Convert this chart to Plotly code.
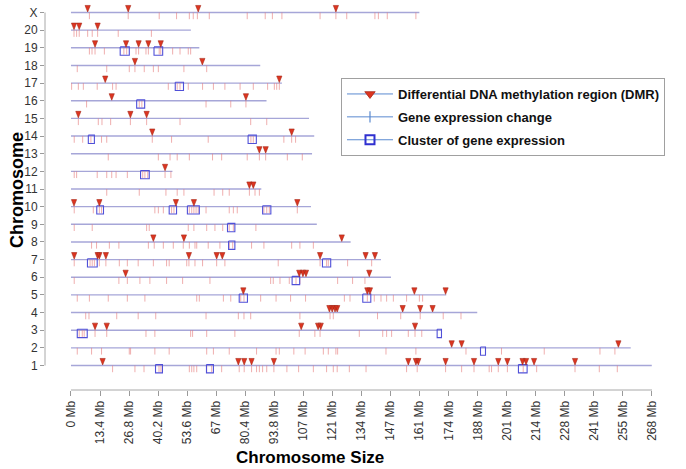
import plotly.graph_objects as go

# ---------------- data (Mb) ----------------
chromosomes = ["1", "2", "3", "4", "5", "6", "7", "8", "9", "10", "11", "12",
               "13", "14", "15", "16", "17", "18", "19", "20", "X"]
chrom_length_mb = [267.9, 258.2, 171.1, 187.4, 173.1, 147.6, 143.0, 129.0, 113.4, 110.7,
                   87.8, 46.8, 111.2, 112.2, 109.8, 90.2, 97.3, 87.3, 59.2, 55.3, 160.7]

dmr_mb = {
    "X": [7.7, 26.4, 58.7, 122.2],
    "20": [1.4, 3.8, 12.3],
    "19": [11.1, 25.4, 31.2, 35.7, 41.4],
    "18": [29.5, 60.6],
    "17": [15.8, 96.1],
    "16": [18.8, 80.7],
    "15": [3.4, 27.4, 34.9],
    "14": [37.5, 101.8],
    "13": [86.9, 89.8],
    "12": [43.4],
    "11": [82.3, 84.1],
    "10": [1.4, 13.1, 48.4, 56.7, 104.4],
    "9": [],
    "8": [38.0, 52.1, 124.9],
    "7": [1.5, 12.3, 13.1, 16.1, 54.4, 67.2, 69.8, 114.9, 135.9, 140.2],
    "6": [25.2, 105.3, 107.0, 108.4, 137.6],
    "5": [79.5, 136.7, 137.9, 158.4, 172.8],
    "4": [119.2, 120.5, 121.8, 122.8, 153.0, 161.1, 166.8],
    "3": [11.1, 16.5, 106.2, 114.0, 115.2, 158.7],
    "2": [175.6, 180.2, 252.5],
    "1": [14.6, 77.2, 79.9, 83.3, 93.6, 155.6, 159.1, 160.2, 172.8, 185.9, 197.1,
          201.3, 208.3, 209.9, 213.6, 232.5],
}

expr_mb = {
    "X": [8.5, 26.4, 40.7, 48.7, 54.6, 56.4, 58.3, 63.8, 81.3, 89.6, 92.9, 97.3, 114.9,
          122.2, 127.2, 140.2, 141.8, 145.9, 159.1],
    "20": [1.4, 2.6, 3.8, 7.7, 9.8, 12.3, 21.8, 37.1],
    "19": [8.5, 9.7, 11.1, 15.4, 24.4, 25.7, 30.0, 31.2, 34.6, 35.7, 40.7, 41.4, 46.9,
           50.3, 54.1, 55.2],
    "18": [2.9, 16.5, 26.9, 29.5, 33.8, 38.0, 40.3, 52.1, 62.6],
    "17": [0.3, 3.4, 5.7, 12.1, 19.2, 20.8, 44.9, 49.0, 50.3, 54.1, 60.7, 65.7, 71.0, 78.0,
           84.1, 90.7, 93.8, 94.9, 96.1],
    "16": [7.2, 31.5, 32.7, 62.3, 73.7, 80.7],
    "15": [3.4, 12.6, 14.3, 18.3, 27.4, 34.9, 50.3, 82.9, 90.3],
    "14": [1.5, 5.4, 9.2, 14.1, 16.5, 37.5, 46.4, 63.3, 83.0, 84.1, 98.2, 101.8, 103.6],
    "13": [17.2, 40.3, 45.7, 49.0, 54.6, 65.3, 69.5, 81.3, 86.9, 89.8, 99.8, 106.7],
    "12": [1.5, 2.6, 12.1, 16.5, 18.8, 20.8, 26.0, 33.1, 34.1, 35.4, 43.4, 46.1],
    "11": [16.5, 31.5, 43.8, 49.0, 52.1, 66.0, 70.0, 73.0, 82.3, 84.9, 86.9],
    "10": [1.5, 10.3, 13.1, 14.1, 38.7, 40.3, 42.6, 46.4, 47.5, 54.6, 55.7, 56.7, 57.7,
           58.7, 62.3, 73.0, 74.9, 76.7, 89.0, 90.3, 91.5, 104.4],
    "9": [1.5, 9.8, 34.9, 36.1, 54.1, 56.7, 62.6, 66.4, 70.0, 73.0, 74.9, 85.3],
    "8": [9.5, 11.8, 17.7, 22.1, 35.7, 38.4, 42.6, 47.2, 51.8, 54.6, 57.2, 58.0, 63.3,
          68.7, 73.0, 74.6, 83.3, 89.0, 101.8, 105.6, 111.8],
    "7": [1.5, 8.8, 9.8, 10.8, 13.1, 16.1, 22.3, 26.0, 31.0, 38.0, 44.1, 45.3, 53.4, 54.4,
          57.2, 60.7, 67.2, 71.0, 95.6, 114.9, 117.9, 118.7, 127.6, 138.7],
    "6": [1.5, 22.1, 26.0, 31.8, 36.4, 44.1, 51.5, 64.1, 92.1, 93.3, 96.4, 100.7, 103.8,
          105.6, 123.0, 129.9, 135.6],
    "5": [2.9, 8.5, 17.2, 26.0, 34.1, 58.0, 59.2, 70.3, 73.7, 78.3, 79.8, 87.5, 94.6,
          101.3, 108.2, 126.1, 128.7, 136.7, 139.9, 143.0, 145.6, 148.7, 154.8, 160.7, 162.2],
    "4": [6.8, 8.3, 21.1, 31.0, 39.1, 62.3, 77.2, 79.8, 82.9, 105.6, 119.5, 121.0, 141.4,
          152.1, 161.1, 171.7, 179.9],
    "3": [3.8, 5.2, 6.1, 11.1, 16.5, 34.6, 38.7, 55.2, 56.1, 62.6, 75.6, 105.3, 112.5,
          114.9, 133.0, 143.8, 145.6, 147.9, 155.6, 158.7, 161.8],
    "2": [2.9, 9.5, 14.1, 26.9, 27.5, 38.7, 45.3, 62.6, 65.7, 73.0, 85.6, 94.6, 96.1,
          102.8, 108.0, 116.4, 118.7, 122.2, 123.0, 145.3, 159.1, 182.2, 198.6, 218.3,
          244.0, 250.9],
    "1": [19.2, 29.5, 33.7, 40.6, 41.5, 54.6, 55.7, 56.7, 58.0, 62.6, 64.9, 69.5, 77.6,
          79.9, 83.3, 85.6, 86.9, 88.4, 90.3, 93.6, 99.6, 105.0, 111.8, 117.9, 121.0, 122.8,
          128.4, 136.1, 154.8, 159.7, 172.8, 180.2, 185.9, 192.9, 194.0, 197.1, 201.3,
          208.6, 214.8, 232.5, 243.7, 252.0],
}

cluster_start_mb = {
    "19": [22.7, 38.3], "17": [48.1], "16": [30.3], "14": [8.0, 81.7], "12": [32.1],
    "10": [11.9, 45.3, 53.7, 88.4], "9": [72.2], "8": [72.7], "7": [7.6, 116.0],
    "6": [102.0], "5": [77.6, 134.6], "3": [2.9, 168.9], "2": [188.9],
    "1": [39.0, 62.5, 206.4],
}
cluster_end_mb = {
    "19": [26.9, 42.3], "17": [51.9], "16": [34.0], "14": [10.8, 85.5], "12": [36.1],
    "10": [15.0, 48.7, 59.2, 92.2], "9": [75.6], "8": [75.6], "7": [12.1, 119.8],
    "6": [105.5], "5": [81.4, 138.3], "3": [7.5, 170.9], "2": [191.2],
    "1": [42.2, 65.7, 210.4],
}

x_tick_values = [0, 13.4, 26.8, 40.2, 53.6, 67.0, 80.4, 93.8, 107.2, 120.6, 134.0,
                 147.4, 160.8, 174.2, 187.6, 201.0, 214.4, 227.8, 241.2, 254.6, 268.0]
x_tick_labels = ["0 Mb", "13.4 Mb", "26.8 Mb", "40.2 Mb", "53.6 Mb", "67 Mb", "80.4 Mb",
                 "93.8 Mb", "107 Mb", "121 Mb", "134 Mb", "147 Mb", "161 Mb", "174 Mb",
                 "188 Mb", "201 Mb", "214 Mb", "228 Mb", "241 Mb", "255 Mb", "268 Mb"]

# ---------------- styling ----------------
FONT = "Liberation Sans, Arial, Helvetica, sans-serif"
CHROM_COLOR = "#a6a6d8"
EXPR_COLOR = "rgba(228,120,120,0.6)"
CLUSTER_COLOR = "#5050d8"
DMR_FILL = "#dc3520"
DMR_EDGE = "#a8281a"
LEGEND_LINE = "#5a8ad0"

TICK_DEPTH = 0.38       # expression tick length (row units)
BOX_TOP = 0.05
BOX_BOTTOM = 0.42
TRI_HALF_W = 1.2        # Mb
TRI_H = 0.37            # row units

row_of = {c: i + 1 for i, c in enumerate(chromosomes)}

# chromosome lines
lx, ly = [], []
for c, L in zip(chromosomes, chrom_length_mb):
    r = row_of[c]
    lx += [0, L, None]
    ly += [r, r, None]

# expression ticks
ex, ey = [], []
for c, vals in expr_mb.items():
    r = row_of[c]
    for v in vals:
        ex += [v, v, None]
        ey += [r, r - TICK_DEPTH, None]

# clusters
cx, cy = [], []
for c in cluster_start_mb:
    r = row_of[c]
    for a, b in zip(cluster_start_mb[c], cluster_end_mb[c]):
        cx += [a, b, b, a, a, None]
        cy += [r + BOX_TOP, r + BOX_TOP, r - BOX_BOTTOM, r - BOX_BOTTOM, r + BOX_TOP, None]

# DMR triangles
tx, ty = [], []
for c, vals in dmr_mb.items():
    r = row_of[c]
    for v in vals:
        tx += [v - TRI_HALF_W, v + TRI_HALF_W, v, v - TRI_HALF_W, None]
        ty += [r + TRI_H + 0.03, r + TRI_H + 0.03, r + 0.03, r + TRI_H + 0.03, None]

fig = go.Figure()
fig.add_trace(go.Scatter(x=lx, y=ly, mode="lines", line=dict(color=CHROM_COLOR, width=1.4),
                         showlegend=False, hoverinfo="skip", cliponaxis=False))
fig.add_trace(go.Scatter(x=ex, y=ey, mode="lines", line=dict(color=EXPR_COLOR, width=1),
                         showlegend=False, hoverinfo="skip", cliponaxis=False))
fig.add_trace(go.Scatter(x=cx, y=cy, mode="lines", line=dict(color=CLUSTER_COLOR, width=1.1),
                         showlegend=False, hoverinfo="skip", cliponaxis=False))
fig.add_trace(go.Scatter(x=tx, y=ty, mode="lines", fill="toself", fillcolor=DMR_FILL,
                         line=dict(color=DMR_EDGE, width=0.6),
                         showlegend=False, hoverinfo="skip", cliponaxis=False))

# legend-only entries
fig.add_trace(go.Scatter(x=[None], y=[None], mode="lines+markers",
                         name="<b>Differential DNA methylation region (DMR)</b>",
                         line=dict(color=LEGEND_LINE, width=1),
                         marker=dict(symbol="triangle-down", size=9, color=DMR_FILL,
                                     line=dict(color=DMR_EDGE, width=0.8)),
                         legendgroup="a"))
fig.add_trace(go.Scatter(x=[None], y=[None], mode="lines+markers",
                         name="<b>Gene expression change</b>",
                         line=dict(color=LEGEND_LINE, width=1),
                         marker=dict(symbol="line-ns-open", size=8,
                                     line=dict(color="#d06060", width=1.2)),
                         legendgroup="b"))
fig.add_trace(go.Scatter(x=[None], y=[None], mode="lines+markers",
                         name="<b>Cluster of gene expression</b>",
                         line=dict(color=LEGEND_LINE, width=1),
                         marker=dict(symbol="square-open", size=9, color="#3030d0",
                                     line=dict(color="#3030d0", width=2)),
                         legendgroup="c"))

fig.update_layout(
    width=686, height=469,
    margin=dict(l=45, r=21, t=0, b=79),
    paper_bgcolor="white", plot_bgcolor="white",
    font=dict(family=FONT, size=12, color="#222"),
    showlegend=True,
    legend=dict(x=0.4774, y=0.80, xanchor="left", yanchor="top",
                bgcolor="white", bordercolor="#a0a0a0", borderwidth=1,
                font=dict(family=FONT, size=13, color="#111"),
                tracegroupgap=3, itemwidth=46),
    xaxis=dict(range=[-11.98, 274.0], tickmode="array", tickvals=x_tick_values,
               ticktext=x_tick_labels, tickangle=-90, ticks="outside", ticklen=5,
               tickcolor="#9a9a9a", showgrid=False, zeroline=False, showline=False,
               tickfont=dict(family=FONT, size=12, color="#333")),
    yaxis=dict(range=[-0.388, 21.708], tickmode="array",
               tickvals=[row_of[c] for c in chromosomes], ticktext=chromosomes,
               ticks="outside", ticklen=4, tickcolor="#9a9a9a", showgrid=False,
               zeroline=False, showline=False,
               tickfont=dict(family=FONT, size=12, color="#333")),
    shapes=[
        dict(type="line", xref="x", yref="paper", x0=0, x1=268, y0=0, y1=0,
             line=dict(color="#a8a8a8", width=1)),
        dict(type="line", xref="paper", yref="y", x0=0, x1=0, y0=1, y1=21,
             line=dict(color="#a8a8a8", width=1)),
    ],
    annotations=[
        dict(text="<b>Chromosome Size</b>", xref="paper", yref="paper", x=0.4274, y=-0.174,
             showarrow=False, xanchor="center", yanchor="middle",
             font=dict(family=FONT, size=17, color="#000")),
        dict(text="<b>Chromosome</b>", xref="paper", yref="paper", x=-0.0452, y=0.513,
             showarrow=False, xanchor="center", yanchor="middle", textangle=-90,
             font=dict(family=FONT, size=18, color="#000")),
    ],
)

fig.write_html("out.html", config={"displayModeBar": False},
               post_script="document.body.style.margin='0px';document.body.style.overflow='hidden';")
